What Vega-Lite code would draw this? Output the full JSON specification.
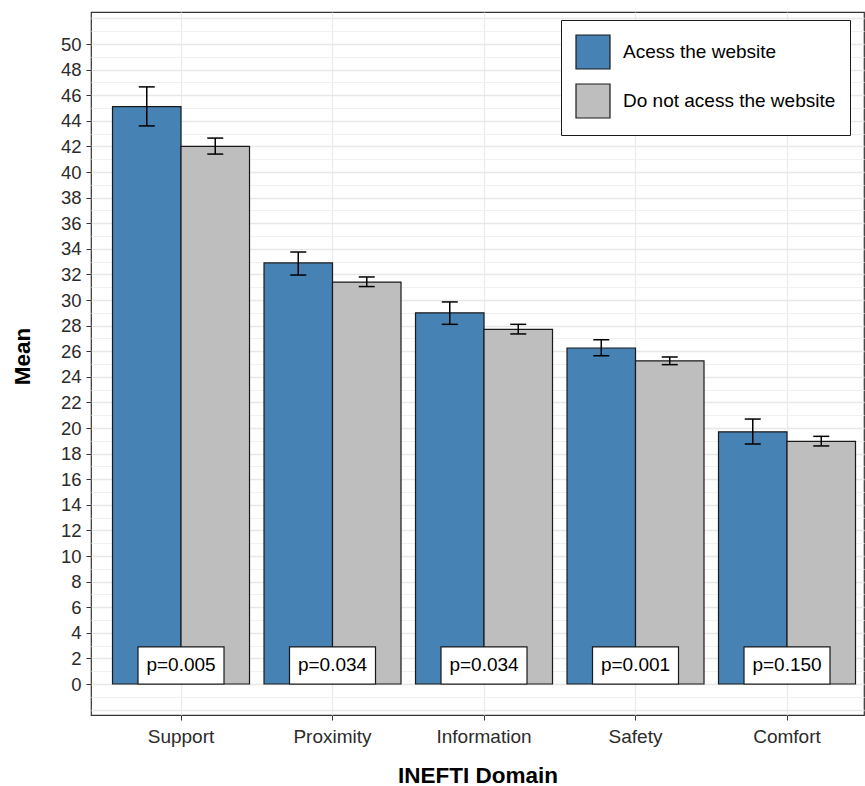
{
  "$schema": "https://vega.github.io/schema/vega-lite/v6.json",
  "autosize": {"type": "none"},
  "padding": {"left": 91, "top": 12, "right": 1, "bottom": 71},
  "width": 773,
  "height": 703,
  "background": "white",
  "config": {
    "font": "Liberation Sans",
    "view": {"stroke": "#333333", "strokeWidth": 1.2},
    "axisY": {"labelOverlap": false, "labelBound": false}
  },
  "datasets": {
    "stats": [
      {"domain": "Support", "group": "Acess the website", "mean": 45.1, "lo": 43.6, "hi": 46.65},
      {"domain": "Support", "group": "Do not acess the website", "mean": 42.0, "lo": 41.4, "hi": 42.65},
      {"domain": "Proximity", "group": "Acess the website", "mean": 32.9, "lo": 31.95, "hi": 33.75},
      {"domain": "Proximity", "group": "Do not acess the website", "mean": 31.4, "lo": 31.05, "hi": 31.8},
      {"domain": "Information", "group": "Acess the website", "mean": 29.0, "lo": 28.1, "hi": 29.85},
      {"domain": "Information", "group": "Do not acess the website", "mean": 27.7, "lo": 27.35, "hi": 28.1},
      {"domain": "Safety", "group": "Acess the website", "mean": 26.25, "lo": 25.65, "hi": 26.9},
      {"domain": "Safety", "group": "Do not acess the website", "mean": 25.25, "lo": 24.95, "hi": 25.55},
      {"domain": "Comfort", "group": "Acess the website", "mean": 19.7, "lo": 18.75, "hi": 20.7},
      {"domain": "Comfort", "group": "Do not acess the website", "mean": 18.95, "lo": 18.6, "hi": 19.35}
    ],
    "pvals": [
      {"domain": "Support", "p": "p=0.005"},
      {"domain": "Proximity", "p": "p=0.034"},
      {"domain": "Information", "p": "p=0.034"},
      {"domain": "Safety", "p": "p=0.001"},
      {"domain": "Comfort", "p": "p=0.150"}
    ]
  },
  "layer": [
    {
      "data": {"name": "stats"},
      "mark": {"type": "bar", "stroke": "#1a1a1a", "strokeWidth": 1.2},
      "encoding": {
        "x": {
          "field": "domain", "type": "nominal",
          "scale": {"domain": ["Support", "Proximity", "Information", "Safety", "Comfort"], "paddingInner": 0.0957, "paddingOuter": 0.099, "align": 0.717},
          "axis": {
            "title": "INEFTI Domain",
            "titleFont": "Liberation Sans", "titleFontSize": 22.5, "titleFontWeight": "bold", "titleColor": "black",
            "titleY": 67, "titleBaseline": "alphabetic",
            "labelFont": "Liberation Sans", "labelFontSize": 19, "labelColor": "#2b2b2b", "labelAngle": 0, "labelPadding": 7,
            "ticks": true, "tickSize": 5, "tickColor": "#333333", "tickBand": "center",
            "domain": false,
            "grid": true, "gridColor": "#EBEBEB", "gridWidth": 1.3, "bandPosition": 0.5
          }
        },
        "xOffset": {"field": "group", "type": "nominal", "scale": {"domain": ["Acess the website", "Do not acess the website"], "paddingInner": 0, "paddingOuter": 0}},
        "y": {
          "field": "mean", "type": "quantitative",
          "scale": {"domain": [-2.42, 52.5], "nice": false, "zero": false},
          "axis": {
            "title": "Mean",
            "titleFont": "Liberation Sans", "titleFontSize": 22.5, "titleFontWeight": "bold", "titleColor": "black",
            "titleX": -69, "titleY": 344, "titleAngle": -90, "titleAlign": "center", "titleBaseline": "middle",
            "tickCount": 200,
            "format": "d",
            "values": [-2, -1, 0, 1, 2, 3, 4, 5, 6, 7, 8, 9, 10, 11, 12, 13, 14, 15, 16, 17, 18, 19, 20, 21, 22, 23, 24, 25, 26, 27, 28, 29, 30, 31, 32, 33, 34, 35, 36, 37, 38, 39, 40, 41, 42, 43, 44, 45, 46, 47, 48, 49, 50, 51, 52],
            "labelExpr": "(datum.value >= 0 && datum.value <= 50 && datum.value % 2 == 0) ? datum.label : ''",
            "labelOverlap": false, "labelBound": false, "labelFlush": false,
            "labelFont": "Liberation Sans", "labelFontSize": 18.5, "labelColor": "#2b2b2b", "labelPadding": 5,
            "tickSize": 5, "tickColor": "#333333",
            "tickOpacity": {"condition": {"test": "datum.value >= 0 && datum.value <= 50 && datum.value % 2 == 0", "value": 1}, "value": 0},
            "domain": false,
            "grid": true,
            "gridColor": {"condition": {"test": "datum.value % 2 == 0", "value": "#E8E8E8"}, "value": "#F0F0F0"},
            "gridWidth": {"condition": {"test": "datum.value % 2 == 0", "value": 1.3}, "value": 1}
          }
        },
        "color": {
          "field": "group", "type": "nominal",
          "scale": {"domain": ["Acess the website", "Do not acess the website"], "range": ["#4682B4", "#BEBEBE"]},
          "legend": {
            "title": null,
            "orient": "none", "legendX": 470, "legendY": 8,
            "direction": "vertical",
            "fillColor": "white", "strokeColor": "#1a1a1a",
            "padding": 14, "rowPadding": 9,
            "symbolType": "square", "symbolSize": 1156, "symbolStrokeColor": "#1a1a1a", "symbolStrokeWidth": 1.2, "symbolOpacity": 1,
            "labelFont": "Liberation Sans", "labelFontSize": 19, "labelColor": "black", "labelOffset": 12, "labelLimit": 400
          }
        }
      }
    },
    {
      "data": {"name": "stats"},
      "mark": {"type": "rule", "color": "black", "strokeWidth": 1.5},
      "encoding": {
        "x": {"field": "domain", "type": "nominal"},
        "xOffset": {"field": "group", "type": "nominal"},
        "y": {"field": "lo", "type": "quantitative"},
        "y2": {"field": "hi"}
      }
    },
    {
      "data": {"name": "stats"},
      "mark": {"type": "tick", "orient": "horizontal", "size": 16, "thickness": 1.5, "color": "black", "opacity": 1},
      "encoding": {
        "x": {"field": "domain", "type": "nominal"},
        "xOffset": {"field": "group", "type": "nominal"},
        "y": {"field": "lo", "type": "quantitative"}
      }
    },
    {
      "data": {"name": "stats"},
      "mark": {"type": "tick", "orient": "horizontal", "size": 16, "thickness": 1.5, "color": "black", "opacity": 1},
      "encoding": {
        "x": {"field": "domain", "type": "nominal"},
        "xOffset": {"field": "group", "type": "nominal"},
        "y": {"field": "hi", "type": "quantitative"}
      }
    },
    {
      "data": {"name": "pvals"},
      "mark": {"type": "bar", "width": 86, "fill": "white", "stroke": "#1a1a1a", "strokeWidth": 1.2},
      "encoding": {
        "x": {"field": "domain", "type": "nominal"},
        "y": {"datum": 0},
        "y2": {"datum": 2.9}
      }
    },
    {
      "data": {"name": "pvals"},
      "mark": {"type": "text", "font": "Liberation Sans", "fontSize": 19, "color": "black", "baseline": "middle", "align": "center"},
      "encoding": {
        "x": {"field": "domain", "type": "nominal"},
        "y": {"datum": 1.45},
        "text": {"field": "p"}
      }
    }
  ]
}
